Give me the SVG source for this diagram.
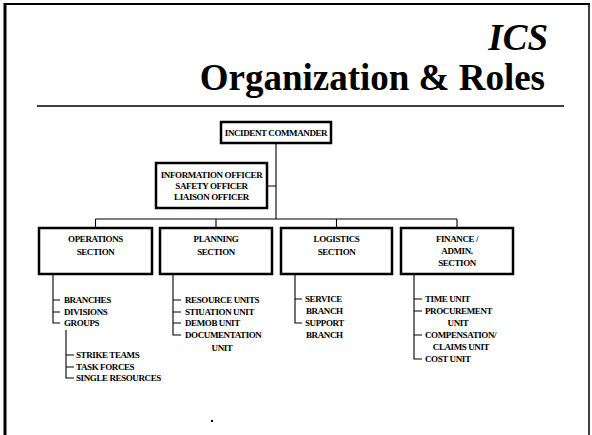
<svg xmlns="http://www.w3.org/2000/svg" width="592" height="435" viewBox="0 0 592 435">
<style>
.frame{fill:none;stroke:#000}
.box{fill:#fff;stroke:#000;stroke-width:2.5}
.c{fill:none;stroke:#000;stroke-width:1.1}
.t{font-family:"Liberation Serif","Times New Roman",serif;font-weight:bold;font-size:9px;letter-spacing:-0.4px;fill:#000}
.m{text-anchor:middle}
.title{font-family:"Liberation Serif","Times New Roman",serif;font-weight:bold;fill:#000;text-anchor:end}
</style>
<rect width="592" height="435" fill="#fff"/>
<g id="frame">
<line class="frame" x1="5" y1="3" x2="5" y2="435" stroke-width="3"/>
<line class="frame" x1="4" y1="4" x2="590" y2="4" stroke-width="2"/>
<line class="frame" x1="589" y1="3" x2="589" y2="435" stroke-width="1.5"/>
<line class="frame" x1="37" y1="106" x2="564" y2="106" stroke-width="1.5"/>
</g>
<g id="title">
<text class="title" x="548" y="50" font-size="37" font-style="italic">ICS</text>
<text class="title" x="545" y="90" font-size="37">Organization &amp; Roles</text>
</g>
<g id="connectors">
<path class="c" d="M276 143V219M267 186H276M95.5 219H457M95.5 219V228M216 219V228M336.5 219V228M457 219V228"/>
<path class="c" d="M53 274V323H60M53 300H60M53 312H60"/>
<path class="c" d="M66 330V378H74M66 355H74M66 367H74"/>
<path class="c" d="M173 274V335H181M173 300H181M173 312H181M173 323H181"/>
<path class="c" d="M295 274V323H302M295 299H302"/>
<path class="c" d="M414 274V359H422M414 299H422M414 311H422M414 335H422"/>
</g>
<g id="incident-commander">
<rect class="box" x="221" y="122" width="110" height="21"/>
<text class="t m" x="276" y="136">INCIDENT COMMANDER</text>
</g>
<g id="command-staff">
<rect class="box" x="156" y="163" width="111" height="45"/>
<text class="t m" x="211.5" y="178">INFORMATION OFFICER</text>
<text class="t m" x="211.5" y="189">SAFETY OFFICER</text>
<text class="t m" x="211.5" y="200">LIAISON OFFICER</text>
</g>
<g id="operations">
<rect class="box" x="39" y="228" width="113" height="46"/>
<text class="t m" x="95.5" y="242">OPERATIONS</text>
<text class="t m" x="95.5" y="255">SECTION</text>
<text class="t" x="64" y="303">BRANCHES</text>
<text class="t" x="64" y="315">DIVISIONS</text>
<text class="t" x="64" y="326">GROUPS</text>
<text class="t" x="76" y="358">STRIKE TEAMS</text>
<text class="t" x="76" y="370">TASK FORCES</text>
<text class="t" x="76" y="381">SINGLE RESOURCES</text>
</g>
<g id="planning">
<rect class="box" x="160" y="228" width="112" height="46"/>
<text class="t m" x="216" y="242">PLANNING</text>
<text class="t m" x="216" y="255">SECTION</text>
<text class="t" x="185" y="303">RESOURCE UNITS</text>
<text class="t" x="185" y="315">STIUATION UNIT</text>
<text class="t" x="185" y="326">DEMOB UNIT</text>
<text class="t" x="185" y="338">DOCUMENTATION</text>
<text class="t m" x="222" y="351">UNIT</text>
</g>
<g id="logistics">
<rect class="box" x="281" y="228" width="111" height="46"/>
<text class="t m" x="336.5" y="242">LOGISTICS</text>
<text class="t m" x="336.5" y="255">SECTION</text>
<text class="t" x="305" y="302">SERVICE</text>
<text class="t" x="306" y="314">BRANCH</text>
<text class="t" x="305" y="326">SUPPORT</text>
<text class="t" x="306" y="338">BRANCH</text>
</g>
<g id="finance">
<rect class="box" x="401" y="228" width="112" height="46"/>
<text class="t m" x="457" y="242">FINANCE /</text>
<text class="t m" x="457" y="254">ADMIN.</text>
<text class="t m" x="457" y="266">SECTION</text>
<text class="t" x="425" y="302">TIME UNIT</text>
<text class="t" x="425" y="314">PROCUREMENT</text>
<text class="t m" x="458" y="326">UNIT</text>
<text class="t" x="425" y="338">COMPENSATION/</text>
<text class="t m" x="461" y="350">CLAIMS UNIT</text>
<text class="t" x="425" y="362">COST UNIT</text>
</g>
<rect x="211" y="420" width="2" height="2" fill="#000"/>
</svg>
